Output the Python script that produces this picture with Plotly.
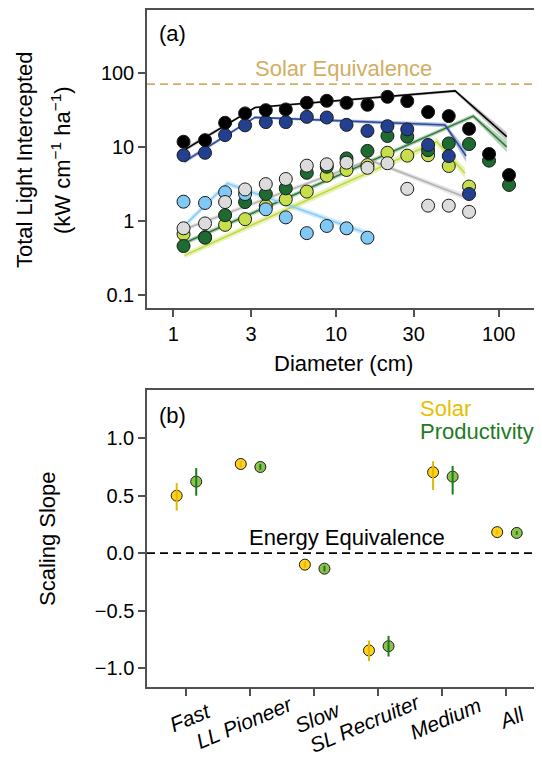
import numpy as np
import plotly.graph_objects as go

# ---------------- Panel (a) data ----------------
diameter = [1.155, 1.566, 2.08, 2.76, 3.70, 4.91, 6.61, 8.77, 11.6, 15.6,
            20.7, 27.4, 36.8, 49.3, 65.7, 87.2, 115.7]

black_vals = [11.7, 12.3, 21.1, 28.3, 31.3, 32.0, 39.3, 41.9, 39.3, 37.0,
              47.4, 41.5, 29.5, 26.0, 17.5, 8.0, 4.15]
navy_vals = [7.7, 8.3, 14.4, 19.5, 21.6, 21.6, 25.4, 24.9, 19.8, 16.4,
             19.0, 17.2, 10.6, 7.5, 2.3, None, None]
dkgreen_vals = [0.455, 0.59, 1.19, 1.79, 2.3, 2.74, 4.45, 5.37, 6.97, 8.8,
                14.0, 13.7, 9.0, 11.1, 10.9, 6.5, 3.05]
ltgreen_vals = [0.66, 0.60, 0.88, 1.05, 1.58, 1.95, 2.48, 4.07, 4.86, 5.67,
                8.3, 7.6, 7.7, 5.5, 2.9, None, None]
grey_vals = [0.79, 0.92, 1.79, 2.65, 3.13, 3.67, 5.56, 5.8, 6.1, 5.2,
             6.0, 2.7, 1.6, 1.6, 1.32, None, None]
ltblue_vals = [1.81, 1.74, 2.43, 2.3, 1.43, 1.11, 0.68, 0.85, 0.79, 0.59,
               None, None, None, None, None, None, None]

# fitted piecewise lines (x, y, half-width of band in log10 units)
black_fit_x = [1.17, 3.18, 54.0, 112.0]
black_fit_y = [9.1, 34.0, 57.0, 13.7]
black_fit_w = [0.03, 0.015, 0.02, 0.06]

navy_fit_x = [1.17, 3.18, 46.8, 63.0]
navy_fit_y = [6.3, 25.0, 19.7, 7.5]
navy_fit_w = [0.03, 0.015, 0.03, 0.08]

dkgreen_fit_x = [1.17, 69.8, 112.0]
dkgreen_fit_y = [0.5, 26.0, 10.0]
dkgreen_fit_w = [0.03, 0.03, 0.07]

ltgreen_fit_x = [1.17, 41.6, 62.0]
ltgreen_fit_y = [0.34, 11.7, 4.4]
ltgreen_fit_w = [0.04, 0.05, 0.07]

grey_fit_x = [1.17, 16.1, 62.0]
grey_fit_y = [0.77, 6.6, 2.1]
grey_fit_w = [0.03, 0.025, 0.04]

ltblue_fit_x = [1.17, 2.15, 15.4]
ltblue_fit_y = [0.86, 3.2, 0.68]
ltblue_fit_w = [0.04, 0.035, 0.04]

solar_equivalence = 70.3

# ---------------- Panel (b) data ----------------
groups = ["Fast", "LL Pioneer", "Slow", "SL Recruiter", "Medium", "All"]
solar_slope = [0.50, 0.776, -0.10, -0.847, 0.704, 0.183]
solar_lo = [0.37, 0.75, -0.125, -0.94, 0.55, 0.165]
solar_hi = [0.61, 0.80, -0.075, -0.76, 0.80, 0.20]
prod_slope = [0.623, 0.75, -0.135, -0.81, 0.666, 0.176]
prod_lo = [0.50, 0.725, -0.16, -0.90, 0.51, 0.16]
prod_hi = [0.74, 0.775, -0.11, -0.72, 0.76, 0.192]

# ---------------- styling ----------------
FONT = "Liberation Sans, Arial, Helvetica, sans-serif"
AX = "#505050"
OFF = 8                      # default page body margin
W, H = 542 - OFF, 758 - OFF
ML, MT = 147 - OFF, 10 - OFF
MR = 0
MB = H - (687 - OFF)
PW, PH = W - ML - MR, H - MT - MB


def px(xp):
    """page pixel x -> paper coordinate"""
    return (xp - OFF - ML) / PW


def py(yp):
    """page pixel y -> paper coordinate"""
    return (H - MB - (yp - OFF)) / PH


fig = go.Figure()

series = [
    ("ltgreen", ltgreen_vals, ltgreen_fit_x, ltgreen_fit_y, ltgreen_fit_w,
     "#C6DF4A", "#C0DA3A", "rgba(192,218,58,0.35)"),
    ("dkgreen", dkgreen_vals, dkgreen_fit_x, dkgreen_fit_y, dkgreen_fit_w,
     "#1E6B32", "#2E7D3A", "rgba(46,125,58,0.35)"),
    ("ltblue", ltblue_vals, ltblue_fit_x, ltblue_fit_y, ltblue_fit_w,
     "#80C8F6", "#88CDF6", "rgba(136,205,246,0.4)"),
    ("grey", grey_vals, grey_fit_x, grey_fit_y, grey_fit_w,
     "#DCDCDC", "#B4B4B4", "rgba(180,180,180,0.35)"),
    ("navy", navy_vals, navy_fit_x, navy_fit_y, navy_fit_w,
     "#22408F", "#2C4C9C", "rgba(44,76,156,0.35)"),
    ("black", black_vals, black_fit_x, black_fit_y, black_fit_w,
     "#000000", "#000000", "rgba(90,90,90,0.35)"),
]

# bands
for name, vals, fx, fy, fw, fill, lc, bc in series:
    ly = np.log10(fy)
    up = list(10 ** (ly + np.array(fw)))
    lo = list(10 ** (ly - np.array(fw)))
    fig.add_trace(go.Scatter(x=list(fx) + list(fx)[::-1], y=up + lo[::-1],
                             fill="toself", fillcolor=bc, mode="none",
                             hoverinfo="skip", showlegend=False,
                             xaxis="x", yaxis="y"))
# lines
for name, vals, fx, fy, fw, fill, lc, bc in series:
    fig.add_trace(go.Scatter(x=fx, y=fy, mode="lines",
                             line=dict(color=lc, width=1.6),
                             showlegend=False, xaxis="x", yaxis="y"))
# points
for name, vals, fx, fy, fw, fill, lc, bc in series:
    fig.add_trace(go.Scatter(x=diameter, y=vals, mode="markers",
                             marker=dict(size=13, color=fill,
                                         line=dict(color="#1a1a1a", width=1)),
                             showlegend=False, xaxis="x", yaxis="y"))

# ---------------- panel (b) ----------------
idx = np.arange(len(groups))
solar_x = idx - 0.145
prod_x = idx + 0.16

fig.add_trace(go.Scatter(x=solar_x, y=solar_slope, mode="markers",
                         marker=dict(size=11, color="#FFD21A",
                                     line=dict(color="#1a1a1a", width=1)),
                         showlegend=False, xaxis="x2", yaxis="y2"))
fig.add_trace(go.Scatter(x=prod_x, y=prod_slope, mode="markers",
                         marker=dict(size=11, color="#8DC24C",
                                     line=dict(color="#1a1a1a", width=1)),
                         showlegend=False, xaxis="x2", yaxis="y2"))
fig.add_trace(go.Scatter(
    x=solar_x, y=solar_slope, mode="markers",
    marker=dict(size=1, color="rgba(0,0,0,0)"),
    error_y=dict(type="data", symmetric=False,
                 array=list(np.array(solar_hi) - np.array(solar_slope)),
                 arrayminus=list(np.array(solar_slope) - np.array(solar_lo)),
                 width=0, thickness=2, color="#E2B800"),
    showlegend=False, xaxis="x2", yaxis="y2"))
fig.add_trace(go.Scatter(
    x=prod_x, y=prod_slope, mode="markers",
    marker=dict(size=1, color="rgba(0,0,0,0)"),
    error_y=dict(type="data", symmetric=False,
                 array=list(np.array(prod_hi) - np.array(prod_slope)),
                 arrayminus=list(np.array(prod_slope) - np.array(prod_lo)),
                 width=0, thickness=2, color="#1C7A1C"),
    showlegend=False, xaxis="x2", yaxis="y2"))

axis_common = dict(showline=True, linecolor=AX, linewidth=1.5, ticks="outside",
                   ticklen=7, tickwidth=1.5, tickcolor=AX, showgrid=False,
                   zeroline=False, automargin=False,
                   tickfont=dict(family=FONT, size=20, color="#000"))

top_dom = [py(308), 1.0]
bot_dom = [0.0, py(390)]

fig.update_layout(
    width=W, height=H,
    margin=dict(l=ML, r=MR, t=MT, b=MB, pad=0),
    paper_bgcolor="white", plot_bgcolor="white",
    font=dict(family=FONT, size=20, color="#000"),
    xaxis=dict(type="log", range=[-0.162, 2.266], domain=[0, 1], anchor="y",
               tickvals=[1, 3, 10, 30, 100], ticktext=["1", "3", "10", "30", "100"],
               mirror=True, **axis_common),
    yaxis=dict(type="log", range=[-1.18, 2.85], domain=top_dom, anchor="x",
               tickvals=[0.1, 1, 10, 100], ticktext=["0.1", "1", "10", "100"],
               **axis_common),
    xaxis2=dict(range=[-0.608, 5.554], domain=[0, 1], anchor="y2",
                tickvals=list(idx), showticklabels=False, mirror=True,
                **axis_common),
    yaxis2=dict(range=[-1.165, 1.42], domain=bot_dom, anchor="x2",
                tickvals=[-1, -0.5, 0, 0.5, 1],
                ticktext=["\u22121.0", "\u22120.5", "0.0", "0.5", "1.0"],
                **axis_common),
    shapes=[
        dict(type="line", xref="x domain", x0=0, x1=1, yref="y",
             y0=solar_equivalence, y1=solar_equivalence,
             line=dict(color="#D2AE62", width=1.6, dash="8px,5px")),
        dict(type="line", xref="x2 domain", x0=0, x1=1, yref="y2",
             y0=0, y1=0, line=dict(color="#000", width=1.6, dash="8px,5px")),
    ],
)

ann = []


def add_text(text, xp, yp, size=22, color="#000", xanchor="center",
             yanchor="middle", angle=0):
    ann.append(dict(text=text, xref="paper", yref="paper", x=px(xp), y=py(yp),
                    xanchor=xanchor, yanchor=yanchor, showarrow=False,
                    textangle=angle,
                    font=dict(family=FONT, size=size, color=color)))


add_text("(a)", 172, 33)
add_text("(b)", 172, 415)
add_text("Solar Equivalence", 343, 69, color="#D2AE62")
add_text("Energy Equivalence", 347, 537)
add_text("Solar", 418, 408, color="#E6C000", xanchor="left")
add_text("Productivity", 418, 431, color="#1E7B1E", xanchor="left")
add_text("Diameter (cm)", 343, 364)
add_text("Total Light Intercepted", 25, 160, angle=-90)
add_text("(kW cm<sup>\u22121</sup> ha<sup>\u22121</sup>)", 61, 160, angle=-90)
add_text("Scaling Slope", 47, 539, angle=-90)

# rotated category labels: horizontal shift from tick (px) and centre row (px)
label_dx = [4, -6, 3, -14, 3, 5]
label_cy = [717, 722, 717, 723, 718, 717]
px_per_unit = PW / (5.554 + 0.608)
for i, g in enumerate(groups):
    ann.append(dict(text="<i>" + g + "</i>", xref="x2", yref="paper",
                    x=i + label_dx[i] / px_per_unit, y=py(label_cy[i]),
                    xanchor="center", yanchor="middle",
                    showarrow=False, textangle=-23,
                    font=dict(family=FONT, size=21, color="#000")))

fig.update_layout(annotations=ann)

fig.write_html("out.html")
